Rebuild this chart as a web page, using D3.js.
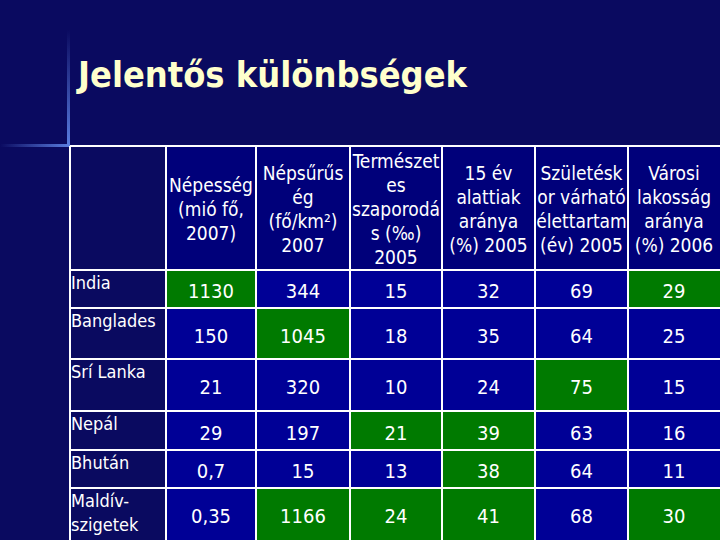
<!DOCTYPE html>
<html><head><meta charset="utf-8">
<script src="https://cdn.jsdelivr.net/npm/d3@7"></script>
<style>body{margin:0;background:#0a0a60;}</style>
</head><body>
<svg class="main-svg" width="720" height="540"></svg>
<script>
var headers = [
  ['Népesség', '(mió fő,', '2007)'],
  ['Népsűrűs', 'ég', '(fő/km²)', '2007'],
  ['Természet', 'es', 'szaporodá', 's (‰)', '2005'],
  ['15 év', 'alattiak', 'aránya', '(%) 2005'],
  ['Születésk', 'or várható', 'élettartam', '(év) 2005'],
  ['Városi', 'lakosság', 'aránya', '(%) 2006']
];
var countries = [['India'], ['Banglades'], ['Srí Lanka'], ['Nepál'], ['Bhután'], ['Maldív-', 'szigetek']];
var values = [
  ['1130', '344', '15', '32', '69', '29'],
  ['150', '1045', '18', '35', '64', '25'],
  ['21', '320', '10', '24', '75', '15'],
  ['29', '197', '21', '39', '63', '16'],
  ['0,7', '15', '13', '38', '64', '11'],
  ['0,35', '1166', '24', '41', '68', '30']
];
// highlighted cells [row, col]
var highlights = [[0,0],[1,1],[3,2],[3,3],[4,3],[5,1],[5,2],[5,3],[2,4],[0,5],[5,5]];

var colEdges = [70, 166, 256, 350, 442, 535, 628, 720],
    rowEdges = [146, 270, 308, 359, 411, 450, 488, 540],
    font = 'Tahoma, "DejaVu Sans Condensed", "DejaVu Sans", sans-serif';

var svg = d3.select('.main-svg');
var defs = svg.append('defs');
var g1 = defs.append('linearGradient').attr('id', 'hl');
g1.append('stop').attr('offset', '0').attr('stop-color', '#0a0a60');
g1.append('stop').attr('offset', '1').attr('stop-color', '#5a7ee0');
var g2 = defs.append('linearGradient').attr('id', 'vl').attr('x1', 0).attr('x2', 0).attr('y1', 0).attr('y2', 1);
g2.append('stop').attr('offset', '0').attr('stop-color', '#0a0a60');
g2.append('stop').attr('offset', '1').attr('stop-color', '#5a7ee0');

svg.append('rect').attr('x', 0).attr('y', 144).attr('width', 70).attr('height', 3).attr('fill', 'url(#hl)');
svg.append('rect').attr('x', 67).attr('y', 30).attr('width', 3).attr('height', 116).attr('fill', 'url(#vl)');

svg.append('text').attr('x', 78).attr('y', 87)
  .attr('fill', '#ffffcc').attr('font-family', font).attr('font-weight', 'bold')
  .attr('font-size', 36).attr('textLength', 389).attr('lengthAdjust', 'spacingAndGlyphs')
  .text('Jelentős különbségek');

var isHi = (r, c) => highlights.some(h => h[0] === r && h[1] === c);

// header cells
headers.forEach((lines, c) => {
  var x0 = colEdges[c+1], x1 = colEdges[c+2];
  svg.append('rect').attr('x', x0).attr('y', rowEdges[0]).attr('width', x1-x0)
    .attr('height', rowEdges[1]-rowEdges[0]).attr('fill', '#00007a');
  var top = 209 - (lines.length-1)*24/2;
  svg.append('g').selectAll('text').data(lines).enter().append('text')
    .attr('x', (x0+x1)/2).attr('y', (d, i) => top + i*24)
    .attr('dy', '0.35em').attr('text-anchor', 'middle')
    .attr('fill', '#fff').attr('font-family', font).attr('font-size', 19)
    .text(d => d);
});

// body
values.forEach((row, r) => {
  var y0 = rowEdges[r+1], y1 = rowEdges[r+2];
  svg.append('g').selectAll('text').data(countries[r]).enter().append('text')
    .attr('x', 71).attr('y', (d, i) => y0 + 13 + i*24).attr('dy', '0.35em')
    .attr('fill', '#fff').attr('font-family', font).attr('font-size', 18).text(d => d);
  row.forEach((v, c) => {
    var x0 = colEdges[c+1], x1 = colEdges[c+2];
    svg.append('rect').attr('x', x0).attr('y', y0).attr('width', x1-x0).attr('height', y1-y0)
      .attr('fill', isHi(r, c) ? '#007a00' : '#000096');
    svg.append('text').attr('x', (x0+x1)/2).attr('y', (y0+y1)/2 + 2).attr('dy', '0.35em')
      .attr('text-anchor', 'middle').attr('fill', '#fff').attr('font-family', font)
      .attr('font-size', 20).text(v);
  });
});

// grid lines
svg.append('g').selectAll('line').data(colEdges.slice(0, 7)).enter().append('line')
  .attr('x1', d => d).attr('x2', d => d).attr('y1', rowEdges[0]).attr('y2', 540)
  .attr('stroke', '#fff').attr('stroke-width', 2);
svg.append('g').selectAll('line').data(rowEdges.slice(0, 7)).enter().append('line')
  .attr('x1', 70).attr('x2', 720).attr('y1', d => d).attr('y2', d => d)
  .attr('stroke', '#fff').attr('stroke-width', 2);
</script>
</body></html>
